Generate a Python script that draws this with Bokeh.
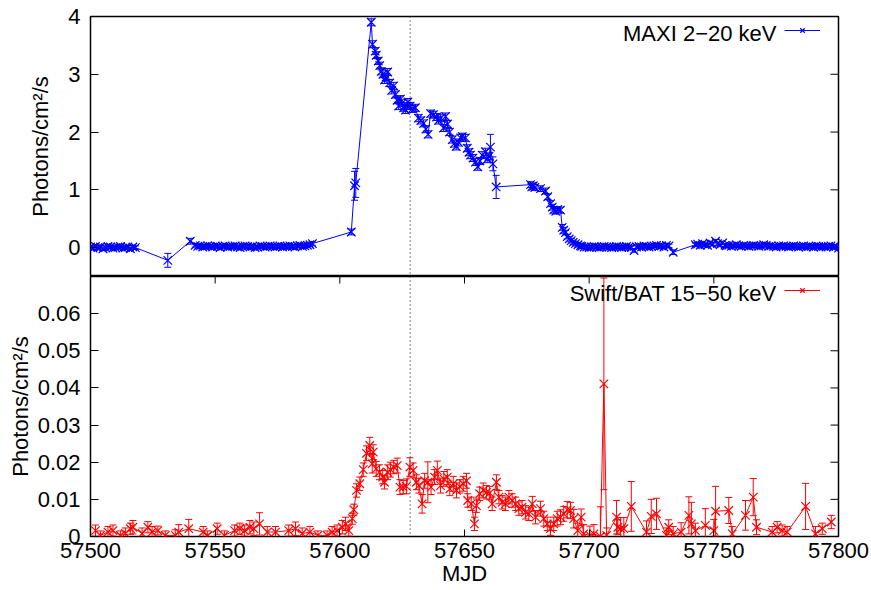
import math

from bokeh.embed import file_html
from bokeh.layouts import column
from bokeh.models import (ColumnDataSource, FixedTicker, Label, Legend, LegendItem,
                          NumeralTickFormatter, Range1d, Span, TeeHead, Whisker)
from bokeh.plotting import figure
from bokeh.resources import INLINE

FONT = "Liberation Sans"
FS = "22px"
BLUE = "#0000ff"
RED = "#ff0000"

# ---------------- MAXI 2-20 keV light curve ----------------
maxi_decay_mjd = [
    57612.6, 57613.1, 57614.2, 57614.6, 57615.4, 57616.0, 57616.6, 57617.3, 57617.9, 57618.5,
    57619.2, 57620.0, 57620.8, 57621.6, 57622.3, 57623.0, 57623.6, 57624.3, 57625.0, 57625.6,
    57626.3, 57627.0, 57627.3, 57628.2, 57629.0, 57630.3, 57631.5, 57632.5, 57633.6, 57634.5,
    57635.4, 57636.4, 57637.5, 57638.8, 57639.6, 57640.4, 57641.6, 57642.4, 57643.2, 57644.0,
    57645.1, 57645.9, 57646.7, 57647.6, 57648.4, 57649.1, 57650.4, 57651.1, 57651.8, 57652.4,
    57653.4, 57654.4, 57655.3, 57656.2, 57657.1, 57658.4, 57659.1, 57659.8, 57660.4, 57661.4,
    57662.7, 57676.5, 57677.0, 57677.6, 57678.2, 57680.5, 57682.5, 57683.4, 57684.5, 57685.2,
    57685.8, 57686.6, 57687.4, 57688.5, 57689.2, 57689.8, 57690.5, 57691.2, 57692.0, 57692.8,
    57693.6, 57694.5, 57695.5, 57696.5,
]
maxi_decay_flux = [
    3.90, 3.52, 3.40, 3.33, 3.23, 3.15, 3.05, 3.00, 2.90, 2.95,
    3.04, 2.85, 2.72, 2.80, 2.65, 2.55, 2.45, 2.57, 2.50, 2.42,
    2.38, 2.45, 2.52, 2.45, 2.40, 2.42, 2.24, 2.20, 2.15, 2.05,
    1.96, 2.32, 2.30, 2.26, 2.20, 2.24, 2.07, 2.27, 2.14, 2.00,
    1.87, 1.80, 1.75, 1.82, 1.90, 1.92, 1.90, 1.72, 1.65, 1.60,
    1.55, 1.48, 1.40, 1.50, 1.60, 1.66, 1.53, 1.58, 1.74, 1.45,
    1.05, 1.09, 1.05, 1.07, 1.04, 1.02, 0.98, 0.88, 0.76, 0.70,
    0.65, 0.63, 0.66, 0.65, 0.35, 0.30, 0.26, 0.19, 0.15, 0.12,
    0.09, 0.07, 0.05, 0.03,
]
maxi_decay_err = [
    0.06, 0.06, 0.06, 0.06, 0.06, 0.06, 0.06, 0.06, 0.06, 0.06,
    0.06, 0.06, 0.06, 0.06, 0.06, 0.06, 0.06, 0.06, 0.06, 0.06,
    0.06, 0.06, 0.06, 0.06, 0.06, 0.06, 0.06, 0.06, 0.06, 0.06,
    0.06, 0.06, 0.06, 0.06, 0.06, 0.06, 0.06, 0.06, 0.06, 0.06,
    0.06, 0.06, 0.06, 0.06, 0.06, 0.06, 0.06, 0.06, 0.06, 0.06,
    0.06, 0.06, 0.06, 0.06, 0.06, 0.06, 0.06, 0.06, 0.22, 0.12,
    0.20, 0.05, 0.05, 0.05, 0.05, 0.05, 0.05, 0.05, 0.05, 0.05,
    0.05, 0.05, 0.05, 0.05, 0.05, 0.05, 0.04, 0.04, 0.04, 0.04,
    0.04, 0.04, 0.04, 0.04,
]

maxi_quiet1_flux = [0.01, -0.01, 0.02, 0.00, 0.01, -0.02, 0.00, 0.02, 0.01, -0.01,
                    0.00, 0.01, 0.02, -0.01, 0.00, 0.01, -0.02, 0.01, 0.00]          # 57500-57518
maxi_quiet2_flux = [0.04, 0.02, 0.03, 0.01, 0.02, 0.03, 0.02, 0.01, 0.03, 0.02,
                    0.00, 0.02, 0.03, 0.01, 0.02, 0.02, 0.03, 0.01, 0.00, 0.02,
                    0.03, 0.02, 0.01, 0.02, 0.00, 0.01, 0.03, 0.02, 0.01, 0.02,
                    0.03, 0.02, 0.01, 0.02, 0.03, 0.01, 0.02, 0.02, 0.03, 0.02,
                    0.01, 0.03, 0.04, 0.02, 0.03, 0.04, 0.05, 0.07]                  # 57542-57589
maxi_tail1_flux = [0.02, 0.01, 0.01, 0.00, 0.01, 0.02, 0.01, 0.00, 0.01, 0.02,
                   0.01, 0.01, 0.00, 0.01, 0.02, 0.01, 0.00, 0.01, 0.02, 0.01,
                   0.00, -0.05, 0.01, 0.02, 0.01, 0.03, 0.02, 0.01, 0.02, 0.03,
                   0.04, 0.02, 0.03, 0.01, 0.04, 0.03]                                # 57697-57732
maxi_tail2_mjd = [57733.7, 57742.6, 57743.5, 57744.5, 57745.5, 57746.5, 57747.5,
                  57748.5, 57749.5, 57750.7, 57751.5, 57752.5, 57753.5, 57754.5]
maxi_tail2_flux = [-0.08, 0.05, 0.06, 0.04, 0.07, 0.05, 0.04, 0.08, 0.06, 0.11,
                   0.07, 0.05, 0.08, 0.04]
maxi_tail3_flux = [0.03, 0.04, 0.02, 0.03, 0.05, 0.03, 0.02, 0.04, 0.03, 0.02,
                   0.03, 0.04, 0.03, 0.02, 0.03, 0.05, 0.04, 0.02, 0.03, 0.02,
                   0.01, 0.03, 0.02, 0.03, 0.02, 0.01, 0.02, 0.03, 0.02, 0.01,
                   0.02, 0.03, 0.01, 0.02, 0.02, 0.01, 0.03, 0.02, 0.01, 0.02,
                   0.01, 0.02, 0.03, 0.01, 0.02, -0.01]                               # 57755-57800

maxi_mjd = (list(range(57500, 57519)) + [57531, 57540] + list(range(57542, 57590))
            + [57604.6, 57605.9, 57606.4] + maxi_decay_mjd
            + list(range(57697, 57733)) + maxi_tail2_mjd + list(range(57755, 57801)))
maxi_flux = (maxi_quiet1_flux + [-0.22, 0.11] + maxi_quiet2_flux
             + [0.27, 1.07, 1.12] + maxi_decay_flux
             + maxi_tail1_flux + maxi_tail2_flux + maxi_tail3_flux)
maxi_err = ([0.03] * len(maxi_quiet1_flux) + [0.12, 0.05] + [0.03] * len(maxi_quiet2_flux)
            + [0.05, 0.25, 0.25] + maxi_decay_err
            + [0.03] * len(maxi_tail1_flux) + [0.04] + [0.03] * (len(maxi_tail2_flux) - 1)
            + [0.03] * len(maxi_tail3_flux))

# ---------------- Swift/BAT 15-50 keV light curve ----------------
bat_mjd = [
    57502.0, 57504.0, 57507.0, 57509.0, 57512.0, 57514.0, 57516.0, 57517.0, 57520.7, 57523.0,
    57524.7, 57527.0, 57530.0, 57534.0, 57535.4, 57539.4, 57545.2, 57547.0, 57550.8, 57553.7,
    57557.8, 57559.9, 57561.8, 57563.9, 57565.5, 57567.8, 57570.9, 57574.2, 57579.5, 57582.2,
    57584.9, 57588.0, 57591.2, 57594.9, 57596.9, 57598.9, 57601.0, 57602.3, 57603.6,
    57605.0, 57605.6, 57606.7, 57608.0, 57609.4, 57610.7, 57612.0, 57613.0, 57613.4, 57614.6,
    57615.9, 57617.2, 57617.9, 57619.2, 57620.3, 57621.6, 57623.0, 57624.1, 57625.4, 57626.7,
    57628.1, 57629.4, 57630.7, 57631.7, 57633.0, 57634.0, 57635.3, 57636.6, 57638.0, 57639.1,
    57640.4, 57641.7, 57643.1, 57644.1, 57645.5, 57646.8, 57648.1, 57649.5, 57650.8, 57651.3,
    57652.7, 57654.0, 57654.8, 57656.1, 57657.5, 57658.8, 57660.1, 57661.1, 57662.8, 57663.8,
    57665.1, 57666.4, 57667.8, 57669.1, 57670.5, 57671.8, 57673.1, 57674.5, 57675.8, 57677.2,
    57678.5, 57680.5, 57681.8, 57683.2, 57684.5, 57685.8, 57687.2, 57688.5, 57689.8, 57691.2,
    57692.5, 57693.8, 57695.4, 57696.8, 57697.8, 57700.3, 57701.9, 57704.5, 57705.9, 57707.0,
    57711.0, 57711.5, 57712.6, 57713.9, 57716.9, 57723.0, 57724.9, 57727.0, 57731.0, 57731.9,
    57733.7, 57736.9, 57740.0, 57741.0, 57742.6, 57746.6, 57750.0, 57750.7, 57756.0, 57757.4,
    57762.7, 57765.8, 57767.1, 57773.4, 57775.4, 57777.4, 57779.4, 57786.8, 57790.8, 57793.5,
    57797.1,
]
bat_flux = [
    0.0016, 0.0003, 0.0012, 0.0016, 0.0003, 0.0008, 0.0021, 0.0025, 0.0008, 0.0025,
    0.0012, 0.0016, 0.0003, 0.0003, 0.0012, 0.0021, 0.0012, 0.0003, 0.0021, 0.0003,
    0.0016, 0.0021, 0.0016, 0.0025, 0.0021, 0.0034, 0.0012, 0.0012, 0.0016, 0.0021,
    0.0008, 0.0012, 0.0003, 0.0003, 0.0012, 0.0016, 0.0025, 0.0034, 0.0016,
    0.0048, 0.0072, 0.0124, 0.0142, 0.0180, 0.0224, 0.0245, 0.0196, 0.0227, 0.0182,
    0.0173, 0.0160, 0.0146, 0.0173, 0.0180, 0.0187, 0.0191, 0.0133, 0.0133, 0.0135,
    0.0187, 0.0178, 0.0146, 0.0137, 0.0088, 0.0150, 0.0146, 0.0133, 0.0160, 0.0178,
    0.0137, 0.0155, 0.0160, 0.0128, 0.0142, 0.0124, 0.0135, 0.0142, 0.0150, 0.0097,
    0.0088, 0.0034, 0.0083, 0.0115, 0.0124, 0.0119, 0.0117, 0.0088, 0.0146, 0.0106,
    0.0092, 0.0088, 0.0106, 0.0097, 0.0088, 0.0075, 0.0079, 0.0065, 0.0061, 0.0088,
    0.0052, 0.0075, 0.0048, 0.0034, 0.0021, 0.0034, 0.0048, 0.0052, 0.0061, 0.0072,
    0.0070, 0.0048, 0.0016, 0.0052, 0.0007, 0.0003, 0.0007, 0.0000, 0.0411, 0.0003,
    0.0052, 0.0025, 0.0021, 0.0021, 0.0081, 0.0012, 0.0054, 0.0061, 0.0003, 0.0025,
    0.0007, 0.0012, 0.0057, 0.0034, 0.0016, 0.0030, 0.0016, 0.0068, 0.0070, 0.0007,
    0.0057, 0.0106, 0.0025, 0.0012, 0.0025, 0.0016, 0.0012, 0.0081, 0.0007, 0.0021,
    0.0039,
]
bat_err = [
    0.0015, 0.0012, 0.0015, 0.0015, 0.0012, 0.0015, 0.0015, 0.0018, 0.0015, 0.0015,
    0.0015, 0.0012, 0.0012, 0.0015, 0.0020, 0.0025, 0.0015, 0.0012, 0.0015, 0.0012,
    0.0015, 0.0015, 0.0015, 0.0018, 0.0018, 0.0030, 0.0015, 0.0015, 0.0015, 0.0018,
    0.0015, 0.0015, 0.0012, 0.0012, 0.0015, 0.0015, 0.0018, 0.0018, 0.0015,
    0.0015, 0.0015, 0.0018, 0.0018, 0.0018, 0.0020, 0.0022, 0.0025, 0.0020, 0.0020,
    0.0020, 0.0018, 0.0018, 0.0020, 0.0020, 0.0018, 0.0020, 0.0020, 0.0018, 0.0020,
    0.0025, 0.0020, 0.0020, 0.0020, 0.0025, 0.0020, 0.0055, 0.0020, 0.0020, 0.0025,
    0.0020, 0.0020, 0.0020, 0.0018, 0.0020, 0.0020, 0.0018, 0.0020, 0.0020, 0.0018,
    0.0018, 0.0018, 0.0018, 0.0018, 0.0020, 0.0018, 0.0018, 0.0018, 0.0020, 0.0018,
    0.0018, 0.0018, 0.0018, 0.0018, 0.0018, 0.0018, 0.0018, 0.0018, 0.0018, 0.0020,
    0.0018, 0.0020, 0.0020, 0.0018, 0.0018, 0.0018, 0.0020, 0.0020, 0.0020, 0.0022,
    0.0022, 0.0025, 0.0020, 0.0022, 0.0025, 0.0025, 0.0025, 0.0080, 0.0285, 0.0020,
    0.0045, 0.0020, 0.0030, 0.0030, 0.0067, 0.0030, 0.0046, 0.0042, 0.0020, 0.0020,
    0.0020, 0.0025, 0.0050, 0.0058, 0.0020, 0.0045, 0.0030, 0.0067, 0.0035, 0.0020,
    0.0040, 0.0050, 0.0020, 0.0015, 0.0015, 0.0015, 0.0015, 0.0062, 0.0020, 0.0015,
    0.0018,
]

mjd_ticks = [57500, 57550, 57600, 57650, 57700, 57750, 57800]
maxi_ticks = [0, 1, 2, 3, 4]
bat_ticks = [0, 0.01, 0.02, 0.03, 0.04, 0.05, 0.06]
marker_mjd = 57628.2
ylabel = "Photons/cm²/s"

MJD_MIN, MJD_MAX = 57500, 57800
x_range = Range1d(MJD_MIN, MJD_MAX)


def style_axis(ax, ticks, tick_len=8):
    ax.ticker = FixedTicker(ticks=ticks, minor_ticks=[])
    ax.major_tick_in = tick_len
    ax.major_tick_out = 0
    ax.minor_tick_in = 0
    ax.minor_tick_out = 0
    ax.axis_line_color = None
    ax.major_tick_line_color = "black"
    ax.major_tick_line_width = 1
    ax.major_label_text_font = FONT
    ax.major_label_text_font_size = FS
    ax.major_label_text_color = "black"
    ax.major_label_standoff = 10


def style_label(ax, text, standoff):
    ax.axis_label = text
    ax.axis_label_text_font = FONT
    ax.axis_label_text_font_size = FS
    ax.axis_label_text_font_style = "normal"
    ax.axis_label_text_color = "black"
    ax.axis_label_standoff = standoff


def mirror_ticks(p, xs, ys, angle, length):
    # short inward tick marks on the opposite frame edge
    p.ray(x=xs, y=ys, length=length, length_units="screen", angle=angle,
          line_color="black", line_width=1)


def draw_series(p, xs, ys, es, color):
    src = ColumnDataSource(dict(x=xs, y=ys,
                                upper=[v + e for v, e in zip(ys, es)],
                                lower=[v - e for v, e in zip(ys, es)]))
    p.add_layout(Whisker(source=src, base="x", upper="upper", lower="lower", dimension="height",
                         line_color=color, line_width=1,
                         upper_head=TeeHead(size=7, line_color=color, line_width=1),
                         lower_head=TeeHead(size=7, line_color=color, line_width=1)))
    ln = p.line("x", "y", source=src, line_color=color, line_width=1)
    sc = p.scatter("x", "y", source=src, marker="x", size=12, line_color=color, line_width=1.2)
    return [ln, sc]


def add_key(p, text, renderers):
    p.add_layout(Label(x=686, y=243, x_units="screen", y_units="screen", text=text,
                       text_align="right", text_baseline="alphabetic",
                       text_font=FONT, text_font_size=FS, text_color="black"))
    leg = Legend(items=[LegendItem(label=" ", renderers=renderers)], location=(694, 238),
                 padding=0, margin=0, spacing=0, glyph_width=36, glyph_height=16,
                 label_standoff=0, label_width=0, label_text_font=FONT, label_text_font_size="10px",
                 border_line_alpha=0, background_fill_alpha=0)
    p.add_layout(leg)


def base_figure(height, y_range, top, bottom, x_axis):
    p = figure(width=871, height=height, x_range=x_range, y_range=y_range,
               output_backend="svg", toolbar_location=None,
               x_axis_location="below" if x_axis else None,
               min_border_left=90, min_border_right=33,
               min_border_top=top, min_border_bottom=bottom)
    p.grid.visible = False
    p.outline_line_color = "black"
    p.outline_line_width = 1.5
    p.outline_line_alpha = 1
    p.background_fill_color = "white"
    p.border_fill_color = "white"
    p.add_layout(Span(location=marker_mjd, dimension="height", line_color="black",
                      line_width=1, line_dash="1 3"))
    return p


# upper panel: MAXI
p1 = base_figure(276, Range1d(-0.5, 4), 16, 0, False)
style_axis(p1.yaxis[0], maxi_ticks)
style_label(p1.yaxis[0], ylabel, 12)
mirror_ticks(p1, [MJD_MAX] * len(maxi_ticks), maxi_ticks, math.pi, 8)
maxi_r = draw_series(p1, maxi_mjd, maxi_flux, maxi_err, BLUE)
add_key(p1, "MAXI 2\u221220 keV", maxi_r)

# lower panel: Swift/BAT
BAT_TOP = 0.07
p2 = base_figure(314, Range1d(0, BAT_TOP), 0, 54, True)
style_axis(p2.yaxis[0], bat_ticks)
p2.yaxis[0].formatter = NumeralTickFormatter(format="0.[00]")
style_label(p2.yaxis[0], ylabel, 2)
style_axis(p2.xaxis[0], mjd_ticks, tick_len=7)
p2.xaxis[0].major_label_standoff = 6
style_label(p2.xaxis[0], "MJD", 0)
mirror_ticks(p2, [MJD_MAX] * len(bat_ticks), bat_ticks, math.pi, 8)
mirror_ticks(p2, mjd_ticks, [BAT_TOP] * len(mjd_ticks), -math.pi / 2, 7)
bat_r = draw_series(p2, bat_mjd, bat_flux, bat_err, RED)
add_key(p2, "Swift/BAT 15\u221250 keV", bat_r)

layout = column(p1, p2, spacing=0)
open("out.html", "w").write(file_html(layout, INLINE))
